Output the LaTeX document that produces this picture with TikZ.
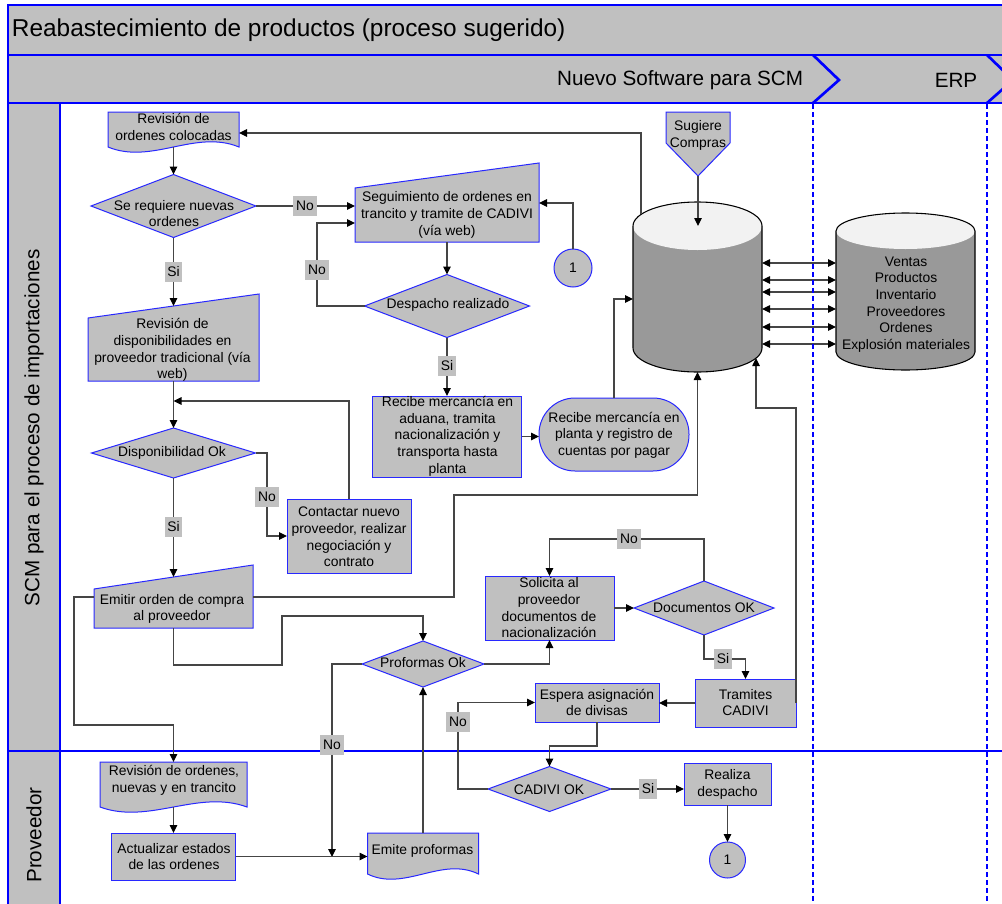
\documentclass[tikz,border=0pt]{standalone}
\usepackage{fontspec}
\setmainfont{Liberation Sans}
\usetikzlibrary{shapes.geometric,arrows.meta}

\definecolor{lanegray}{HTML}{C0C0C0}
\definecolor{edgeblue}{RGB}{40,40,255}
\definecolor{linkgray}{HTML}{454545}
\definecolor{cylbody}{HTML}{999999}
\definecolor{cyltop}{HTML}{F2F2F2}
\definecolor{poolblue}{RGB}{0,0,255}

\begin{document}
\begin{tikzpicture}[x=0.75pt,y=-0.75pt,
  every node/.style={inner sep=0pt, outer sep=0pt},
  sz/.style 2 args={minimum width=#1*0.75pt, minimum height=#2*0.75pt},
  shp/.style={fill=lanegray, draw=edgeblue, line width=0.75pt},
  boxn/.style={shp, rectangle},
  decn/.style={shp, diamond},
  termn/.style={shp, rectangle, rounded corners=27pt},
  circn/.style={shp, circle},
  hidden/.style={rectangle},
  txt/.style={font=\fontsize{10.4}{12.5}\selectfont, align=center, text=black},
  lbl/.style={fill=lanegray, font=\fontsize{10.4}{12.5}\selectfont, inner xsep=2pt, minimum height=15pt},
  link/.style={draw=linkgray, line width=0.8pt, -{Triangle[length=6pt,width=5.6pt,color=black]}},
  dlink/.style={draw=linkgray, line width=0.8pt, {Triangle[length=6pt,width=5.6pt,color=black]}-{Triangle[length=6pt,width=5.6pt,color=black]}},
  hdr/.style={fill=lanegray, draw=poolblue, line width=1pt},
  divider/.style={draw=poolblue, line width=1pt},
  chev/.style={draw=poolblue, line width=2pt},
  vsep/.style={draw=poolblue, line width=1.9pt, dash pattern=on 3.6pt off 2.4pt},
  cylline/.style={draw=black, line width=0.8pt},
]
\useasboundingbox (0,0) rectangle (1002,903);
\fill[white] (0,0) rectangle (1002,903);

% pool header, lane headers and lane divider
\path[hdr] (8,5) rectangle (1012,55);
\path[hdr] (8,55) rectangle (1012,103);
\path[hdr] (8,103) rectangle (60,912);
\draw[divider] (8,751) -- (1012,751);
\begin{scope}
  \clip (0,0) rectangle (1002,903);
  \draw[chev] (813,55) -- (839,80) -- (813,103);
  \draw[chev] (987,55) -- (1013,80) -- (987,103);
\end{scope}

\node[anchor=west, font=\fontsize{18.3}{21}\selectfont] (title) at (12,30) {Reabastecimiento de productos (proceso sugerido)};
\node[anchor=east, font=\fontsize{15.5}{18}\selectfont] (phase1) at (803,80) {Nuevo Software para SCM};
\node[font=\fontsize{15.5}{18}\selectfont] (phase2) at (956,80) {ERP};
\node[rotate=90, font=\fontsize{15.5}{18}\selectfont] (lane1) at (34,428) {SCM para el proceso de importaciones};
\node[rotate=90, font=\fontsize{15.5}{18}\selectfont] (lane2) at (34,835) {Proveedor};

% ---------- document shapes (wavy bottom) ----------
\path[shp] (108,112) -- (239,112) -- (239,147) .. controls (195.3,129) and (151.7,165) .. (108,147) -- cycle;
\node[hidden, sz={131}{35}] (d1) at (173.5,129.5) {};
\path[shp] (100,762) -- (247,762) -- (247,807) .. controls (198,789) and (149,825) .. (100,807) -- cycle;
\node[hidden, sz={147}{45}] (d2) at (173.5,784.5) {};
\path[shp] (367.5,833) -- (478.5,833) -- (478.5,874) .. controls (441.5,856) and (404.5,892) .. (367.5,874) -- cycle;
\node[hidden, sz={111}{41}] (d3) at (423,853.5) {};

% ---------- manual input shapes ----------
\path[shp] (88,318) -- (259,294) -- (259,381) -- (88,381) -- cycle;
\node[hidden, sz={171}{75}] (m1) at (173.5,343.5) {};
\path[shp] (355,188) -- (539,163) -- (539,242) -- (355,242) -- cycle;
\node[hidden, sz={184}{66.5}] (m2) at (447,208.75) {};
\path[shp] (94,589) -- (253,565) -- (253,628) -- (94,628) -- cycle;
\node[hidden, sz={159}{51}] (m3) at (173.5,602.5) {};

% ---------- off-page connector ----------
\path[shp] (666,112) -- (730,112) -- (730,143) -- (698,176) -- (666,143) -- cycle;
\node[hidden, sz={64}{64}] (off1) at (698,144) {};

% ---------- databases ----------
\fill[cylbody] (633,226) arc[start angle=180,end angle=0,x radius=48.375pt,y radius=18pt]
  -- (762,348) arc[start angle=0,end angle=-180,x radius=48.375pt,y radius=18pt] -- cycle;
\fill[cyltop] (697.5,226) ellipse[x radius=48.375pt,y radius=18pt];
\draw[cylline] (633,226) arc[start angle=180,end angle=0,x radius=48.375pt,y radius=18pt]
  -- (762,348) arc[start angle=0,end angle=-180,x radius=48.375pt,y radius=18pt] -- cycle;
\node[hidden, sz={129}{170}] (db1) at (697.5,287) {};
\coordinate (db1top) at (698,226);
\coordinate (db1rim) at (641,214.4);
\coordinate (db1rim2) at (756,358);

\fill[cylbody] (836,231) arc[start angle=180,end angle=0,x radius=52.125pt,y radius=13.5pt]
  -- (975,352) arc[start angle=0,end angle=-180,x radius=52.125pt,y radius=13.5pt] -- cycle;
\fill[cyltop] (905.5,231) ellipse[x radius=52.125pt,y radius=13.5pt];
\draw[cylline] (836,231) arc[start angle=180,end angle=0,x radius=52.125pt,y radius=13.5pt]
  -- (975,352) arc[start angle=0,end angle=-180,x radius=52.125pt,y radius=13.5pt] -- cycle;
\node[hidden, sz={139}{157}] (db2) at (905.5,291.5) {};

% ---------- process boxes, decisions, terminals ----------
\node[boxn, sz={149}{81}] (b1) at (447,436.5) {};
\node[termn, sz={150}{73}] (t1) at (614,434.5) {};
\node[boxn, sz={124}{74}] (b2) at (349,536) {};
\node[boxn, sz={129}{64}] (b3) at (549.5,608) {};
\node[boxn, sz={101}{48}] (b4) at (745.5,703) {};
\node[boxn, sz={124}{39}] (b5) at (597,702.5) {};
\node[boxn, sz={87}{42}] (b6) at (727.5,784) {};
\node[boxn, sz={124}{47}] (b7) at (173.5,856.5) {};

\node[decn, sz={165}{63}] (dec1) at (173.5,206) {};
\node[decn, sz={165}{63}] (dec2) at (447,306) {};
\node[decn, sz={164}{50}] (dec3) at (173.5,453) {};
\node[decn, sz={122}{46}] (dec4) at (423,664) {};
\node[decn, sz={140}{54}] (dec5) at (704,608) {};
\node[decn, sz={123}{45}] (dec6) at (549.5,789) {};

\node[circn, minimum size=38*0.75pt] (c1) at (573,268) {};
\node[circn, minimum size=36*0.75pt] (c2) at (727.5,860) {};

\coordinate (j1) at (173.5,401);
\coordinate (j2) at (332,857);

% ---------- connectors ----------
\draw[link] (db1rim) -- (641,133) -- (d1.east |- 641,133);
\draw[link] (d1.south) -- (dec1.north);
\draw[link] (dec1.east) -- (dec1.east -| m2.west);
\draw[link] (dec1.south) -- (m1.north);
\draw[link] (dec2.west) -- (317,306) -- (317,223) -- (m2.west |- 317,223);
\draw[link] (c1.north) -- (573,203) -- (m2.east |- 573,203);
\draw[link] (m2.south) -- (dec2.north);
\draw[link] (dec2.south) -- (b1.north);
\draw[link] (b1.east) -- (b1.east -| t1.west);
\draw[link] (t1.north) -- (614,299) -- (db1.west |- 614,299);
\draw[link] (off1.south) -- (db1top);
\foreach \yy in {263,280,292,309,327,344}
  \draw[dlink] (db1.east |- 0,\yy) -- (db2.west |- 0,\yy);
\draw[link] (m1.south) -- (dec3.north);
\draw[link] (b2.north) -- (349,401) -- (j1);
\draw[link] (dec3.east) -- (267,453) -- (267,536) -- (b2.west);
\draw[link] (dec3.south) -- (m3.north);
\draw[link] (m3.west |- 0,597) -- (74,597) -- (74,725) -- (173.5,725) -- (d2.north);
\draw[link] (m3.east |- 0,597) -- (454,597) -- (454,495) -- (697.5,495) -- (db1.south);
\draw[link] (m3.south) -- (173.5,665) -- (282,665) -- (282,616) -- (423,616) -- (dec4.north);
\draw[link] (dec4.west) -- (332,664) -- (j2);
\draw[link] (b7.east) -- (b7.east -| d3.west);
\draw[link] (d3.north) -- (dec4.south);
\draw[link] (dec4.east) -- (549.5,664) -- (b3.south);
\draw[link] (b3.east) -- (dec5.west);
\draw[link] (dec5.north) -- (704,539) -- (549.5,539) -- (b3.north);
\draw[link] (dec5.south) -- (704,659) -- (745.5,659) -- (b4.north);
\draw[link] (b4.west) -- (b4.west -| b5.east);
\draw[link] (b4.east) -- (796,408) -- (756,408) -- (db1rim2);
\draw[link] (b5.south) -- (597,746) -- (549.5,746) -- (dec6.north);
\draw[link] (dec6.west) -- (458,789) -- (458,702.5) -- (b5.west);
\draw[link] (dec6.east) -- (dec6.east -| b6.west);
\draw[link] (b6.south) -- (c2.north);
\draw[link] (d2.south) -- (b7.north);

% phase separators
\draw[vsep] (813,104) -- (813,903);
\draw[vsep] (987,104) -- (987,903);

% ---------- texts ----------
\node[txt] (d1t) at (173.5,127) {Revisión de\\ordenes colocadas};
\node[txt] (dec1t) at (174,213.5) {Se requiere nuevas\\ordenes};
\node[txt] (m1t) at (172.5,350) {Revisión de\\disponibilidades en\\proveedor tradicional (vía\\web)};
\node[txt] (m2t) at (447,215) {Seguimiento de ordenes en\\trancito y tramite de CADIVI\\(vía web)};
\node[txt] (c1t) at (573,268) {1};
\node[txt] (dec2t) at (448,305) {Despacho realizado};
\node[txt] (b1t) at (447.5,436) {Recibe mercancía en\\aduana, tramita\\nacionalización y\\transporta hasta\\planta};
\node[txt] (t1t) at (614,435) {Recibe mercancía en\\planta y registro de\\cuentas por pagar};
\node[txt] (off1t) at (698,135.5) {Sugiere\\Compras};
\node[txt] (db2t) at (906,304.5) {Ventas\\Productos\\Inventario\\Proveedores\\Ordenes\\Explosión materiales};
\node[txt] (dec3t) at (172,453) {Disponibilidad Ok};
\node[txt] (b2t) at (349,537) {Contactar nuevo\\proveedor, realizar\\negociación y\\contrato};
\node[txt] (m3t) at (172,609) {Emitir orden de compra\\al proveedor};
\node[txt] (dec4t) at (423,663) {Proformas Ok};
\node[txt] (b3t) at (549,608) {Solicita al\\proveedor\\documentos de\\nacionalización};
\node[txt] (dec5t) at (704,608) {Documentos OK};
\node[txt] (b4t) at (745.5,702.5) {Tramites\\CADIVI};
\node[txt] (b5t) at (597,702.5) {Espera asignación\\de divisas};
\node[txt] (dec6t) at (549,790) {CADIVI OK};
\node[txt] (b6t) at (727.5,784.5) {Realiza\\despacho};
\node[txt] (c2t) at (727.5,860) {1};
\node[txt] (d2t) at (174,780.5) {Revisión de ordenes,\\nuevas y en trancito};
\node[txt] (b7t) at (174,856.5) {Actualizar estados\\de las ordenes};
\node[txt] (d3t) at (422.5,851) {Emite proformas};

% ---------- branch labels ----------
\node[lbl] (l1) at (305,206) {No};
\node[lbl] (l2) at (173.5,272) {Si};
\node[lbl] (l3) at (317,270) {No};
\node[lbl] (l4) at (447,366) {Si};
\node[lbl] (l5) at (267,497) {No};
\node[lbl] (l6) at (173.5,527) {Si};
\node[lbl] (l7) at (332,745) {No};
\node[lbl] (l8) at (629,539) {No};
\node[lbl] (l9) at (723,659) {Si};
\node[lbl] (l10) at (458,722) {No};
\node[lbl] (l11) at (648,789) {Si};
\end{tikzpicture}
\end{document}
